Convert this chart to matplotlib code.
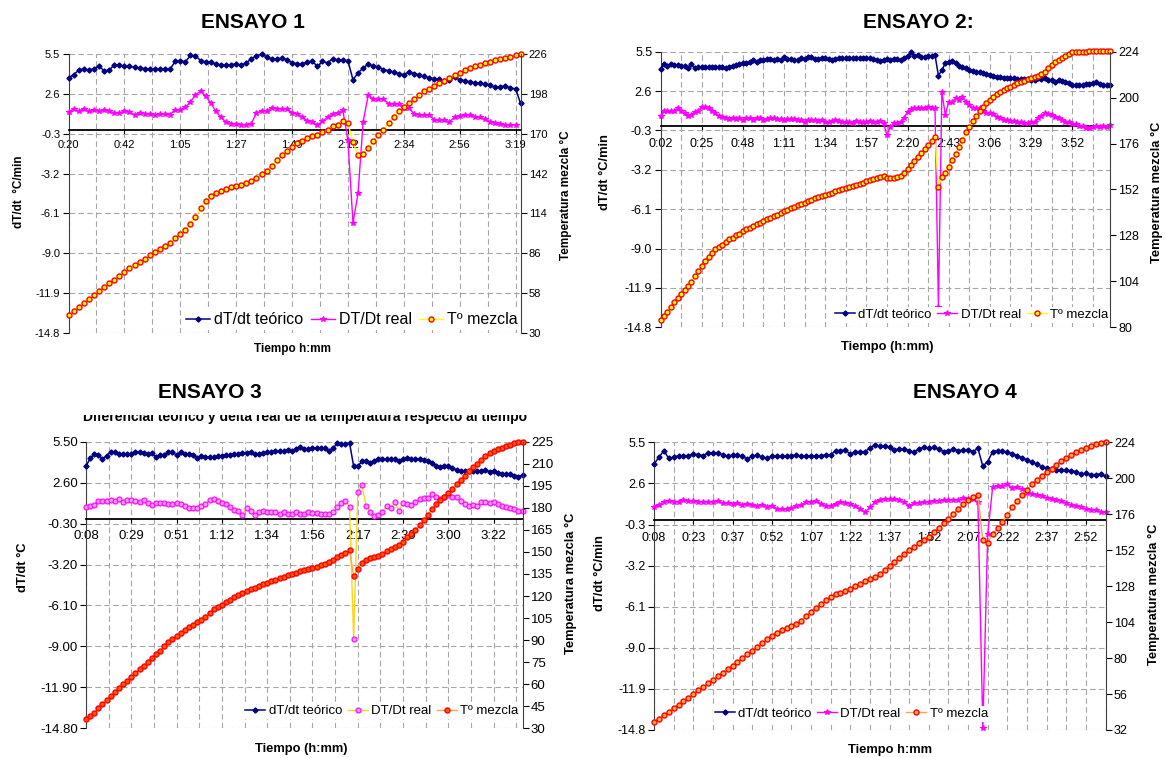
import numpy as np
import matplotlib.pyplot as plt
from matplotlib.patches import Rectangle

# ------------------------------------------------
# Ensayos 1-4 : dT/dt teorico, DT/Dt real y T mezcla
# ------------------------------------------------

plt.rcParams['font.family'] = ['Liberation Sans', 'DejaVu Sans']
W, H = 1166, 758

# ---- ensayo 1 ----
labels1 = ['0:20', '0:42', '1:05', '1:27', '1:49', '2:12', '2:34', '2:56', '3:19']
teo1 = [3.76, 4.0, 4.31, 4.43, 4.31, 4.43, 4.6, 4.29, 4.31, 4.72, 4.72, 4.6, 4.6, 4.53, 4.48,
        4.43, 4.43, 4.43, 4.41, 4.39, 4.39, 4.97, 5.02, 4.92, 5.4, 5.38, 5.02, 4.92, 4.92, 4.77,
        4.72, 4.68, 4.72, 4.8, 4.68, 4.85, 5.16, 5.35, 5.5, 5.3, 5.14, 5.14, 5.21, 5.09, 4.85,
        4.8, 4.77, 4.92, 4.97, 4.6, 4.97, 4.85, 5.16, 5.04, 5.04, 5.02, 3.63, 4.12, 4.48, 4.77,
        4.6, 4.53, 4.36, 4.29, 4.19, 4.07, 4.0, 4.19, 4.07, 4.0, 3.88, 3.76, 3.71, 3.68, 3.56,
        3.58, 3.8, 3.63, 3.56, 3.47, 3.42, 3.38, 3.32, 3.22, 3.08, 3.1, 3.2, 3.0, 2.98, 1.9]
real1 = [1.26, 1.5, 1.33, 1.5, 1.33, 1.41, 1.33, 1.41, 1.33, 1.21, 1.21, 1.33, 1.26, 1.09, 1.21,
         1.16, 1.14, 1.09, 1.14, 1.16, 1.09, 1.45, 1.45, 1.62, 2.01, 2.54, 2.79, 2.42, 1.94, 1.33,
         0.9, 0.53, 0.44, 0.41, 0.36, 0.36, 0.44, 1.21, 1.35, 1.38, 1.58, 1.53, 1.53, 1.53, 1.21,
         1.16, 0.9, 0.66, 0.56, 0.32, 0.61, 0.9, 1.16, 1.21, 1.41, -0.77, -6.78, -4.65, 0.56, 2.5,
         2.23, 2.23, 2.23, 1.89, 1.89, 1.89, 1.58, 1.58, 1.16, 1.09, 1.04, 1.04, 0.73, 0.68, 0.68,
         0.56, 0.9, 0.97, 1.04, 1.09, 0.95, 0.9, 0.75, 0.58, 0.45, 0.38, 0.34, 0.34, 0.34, np.nan]
temp1 = [42.4, 45.4, 48.2, 51.3, 53.6, 56.7, 59.5, 62.5, 64.8, 67.4, 70, 72.8, 75.4, 77.7, 80,
         82.2, 84.5, 86.8, 89.2, 91.3, 93.4, 96.4, 99.7, 102.7, 106.7, 111.6, 117.5, 122.6, 126.1,
         128.5, 130.1, 131.5, 132.7, 133.6, 134.3, 135.2, 136.6, 139, 141.5, 144, 147.5, 151.5,
         155, 158, 161, 163.5, 165.2, 167.1, 168.2, 169.4, 171.3, 172.9, 175.3, 176.4, 179.2,
         177.6, 164, 154.7, 155.8, 160, 164.7, 168.9, 172.9, 177.6, 181.6, 185.8, 188.6, 191.6,
         194.4, 197, 199.8, 201.7, 203.8, 205.7, 207.3, 209.2, 211, 212.7, 214.5, 216.2, 217.5,
         218.5, 219.5, 220.5, 221.5, 222.5, 223.3, 224.2, 225, 226]
rticks1 = [30, 58, 86, 114, 142, 170, 198, 226]

# ---- ensayo 2 ----
labels2 = ['0:02', '0:25', '0:48', '1:11', '1:34', '1:57', '2:20', '2:43', '3:06', '3:29', '3:52']
teo2 = [4.22, 4.59, 4.47, 4.57, 4.52, 4.52, 4.47, 4.47, 4.32, 4.57, 4.27, 4.39, 4.35, 4.39, 4.39,
        4.35, 4.39, 4.39, 4.35, 4.27, 4.39, 4.47, 4.52, 4.57, 4.64, 4.69, 4.71, 4.89, 4.71, 4.89,
        4.89, 4.96, 4.93, 4.89, 4.96, 4.89, 5.08, 4.96, 4.96, 4.89, 4.89, 5.01, 4.96, 5.13, 5.13,
        4.96, 4.96, 5.01, 5.06, 4.96, 4.89, 4.96, 5.01, 5.01, 5.01, 5.01, 5.01, 5.01, 5.01, 5.01,
        5.01, 5.01, 4.93, 4.9, 4.84, 4.89, 4.96, 4.9, 4.96, 4.96, 4.89, 5.01, 5.18, 5.5, 5.18,
        5.25, 5.13, 5.13, 5.18, 5.2, 5.25, 3.73, 4.15, 4.64, 4.76, 4.81, 4.64, 4.47, 4.39, 4.27,
        4.15, 4.07, 4.03, 3.98, 3.9, 3.85, 3.78, 3.71, 3.66, 3.61, 3.58, 3.53, 3.58, 3.53, 3.49,
        3.46, 3.46, 3.46, 3.41, 3.45, 3.53, 3.5, 3.58, 3.41, 3.4, 3.24, 3.41, 3.34, 3.29, 3.21,
        3.05, 3.03, 3.05, 3.05, 3.1, 3.15, 3.2, 3.25, 3.15, 3.05, 3.03, 3.03]
real2 = [0.76, 1.13, 1.13, 1.15, 1.15, 1.32, 1.13, 0.95, 0.78, 0.83, 1.08, 1.13, 1.45, 1.45, 1.32,
         1.13, 0.95, 0.78, 0.71, 0.63, 0.54, 0.59, 0.54, 0.59, 0.46, 0.59, 0.59, 0.46, 0.59, 0.63,
         0.46, 0.54, 0.59, 0.59, 0.54, 0.54, 0.46, 0.54, 0.54, 0.54, 0.46, 0.46, 0.29, 0.46, 0.46,
         0.46, 0.39, 0.46, 0.29, 0.34, 0.39, 0.46, 0.39, 0.34, 0.29, 0.29, 0.22, 0.39, 0.29, 0.29,
         0.29, 0.39, 0.34, 0.34, 0.39, 0.22, -0.64, -0.03, 0.22, 0.22, 0.29, 0.63, 1.08, 1.25, 1.32,
         1.32, 1.32, 1.32, 1.45, 1.37, 1.32, -13.3, 2.55, 0.83, 1.81, 1.76, 2.06, 1.94, 2.18, 1.81,
         1.57, 1.37, 1.32, 1.37, 1.13, 0.95, 0.95, 0.88, 0.71, 0.59, 0.46, 0.46, 0.39, 0.39, 0.34,
         0.29, 0.22, 0.22, 0.29, 0.34, 0.59, 0.78, 0.95, 0.88, 0.83, 0.71, 0.63, 0.46, 0.35, 0.3,
         0.2, 0.15, 0.05, 0.0, -0.1, -0.15, -0.05, 0.0, -0.05, 0.0, -0.05, 0.1]
temp2 = [83.7, 85.9, 88, 90.6, 93.2, 95.3, 97.6, 99.3, 101.6, 103.7, 106.8, 109.3, 112.1, 114.5,
         116.8, 119, 120.8, 122, 123.2, 124.6, 126, 126.9, 128.1, 129, 130.2, 131.2, 132.1, 133,
         133.9, 134.7, 135.6, 136.5, 137.3, 138.2, 138.9, 139.8, 140.7, 141.5, 142.4, 143.1, 143.8,
         144.5, 145.2, 145.9, 146.6, 147.3, 148, 148.7, 149.2, 149.7, 150.4, 151.1, 151.6, 152.2,
         152.7, 153.2, 153.7, 154.3, 154.8, 155.5, 156.2, 156.8, 157.4, 158, 158.6, 159.3, 158.1,
         157.8, 158.1, 158.6, 159.3, 160.5, 162.5, 164.8, 167, 169, 171, 173.2, 175.5, 177.5,
         179.5, 153.4, 158.6, 160.4, 163.8, 167.3, 170.8, 174.3, 177.8, 181.8, 184.8, 187.7, 190.5,
         192.9, 195.2, 197, 198.7, 200.4, 201.7, 202.7, 203.9, 204.8, 205.7, 206.5, 207.4, 208.3,
         208.8, 209.5, 210, 210.6, 211.2, 212.1, 213.5, 215.3, 217, 218.4, 219.6, 220.8, 221.9,
         223, 223.8, 224, 224, 224.1, 224.1, 224.2, 224.2, 224.3, 224.3, 224.4, 224.4, 224.5]
rticks2 = [80, 104, 128, 152, 176, 200, 224]

# ---- ensayo 3 ----
labels3 = ['0:08', '0:29', '0:51', '1:12', '1:34', '1:56', '2:17', '2:39', '3:00', '3:22']
teo3 = [3.76, 4.32, 4.63, 4.58, 4.27, 4.51, 4.79, 4.75, 4.63, 4.63, 4.63, 4.63, 4.75, 4.79, 4.7,
        4.63, 4.7, 4.39, 4.56, 4.56, 4.79, 4.75, 4.56, 4.79, 4.63, 4.63, 4.56, 4.32, 4.46, 4.39,
        4.39, 4.39, 4.46, 4.46, 4.56, 4.56, 4.63, 4.63, 4.7, 4.7, 4.79, 4.63, 4.63, 4.7, 4.75,
        4.79, 4.86, 4.82, 4.86, 4.89, 4.86, 4.98, 5.1, 4.98, 4.98, 5.03, 5.03, 5.03, 5.03, 4.86,
        5.03, 5.4, 5.35, 5.35, 5.4, 3.76, 3.76, 4.1, 4.15, 4.0, 4.15, 4.3, 4.25, 4.25, 4.3, 4.25,
        4.15, 4.25, 4.38, 4.25, 4.25, 4.3, 4.2, 4.1, 4.02, 3.8, 3.72, 3.8, 3.8, 3.63, 3.51, 3.44,
        3.44, 3.45, 3.45, 3.42, 3.42, 3.5, 3.38, 3.45, 3.28, 3.22, 3.2, 3.18, 3.1, 3.02, 3.12]
real3 = [0.86, 0.98, 1.02, 1.33, 1.33, 1.33, 1.38, 1.33, 1.45, 1.26, 1.38, 1.38, 1.33, 1.26, 1.38,
         1.14, 1.02, 1.14, 1.14, 1.14, 1.09, 1.09, 1.17, 1.09, 0.98, 0.79, 0.79, 0.79, 0.93, 1.09,
         1.38, 1.45, 1.28, 1.14, 1.09, 0.86, 0.69, 0.62, 0.34, 0.79, 0.62, 0.34, 0.51, 0.58, 0.55,
         0.55, 0.55, 0.39, 0.55, 0.39, 0.39, 0.55, 0.39, 0.39, 0.55, 0.46, 0.46, 0.39, 0.39, 0.39,
         0.51, 0.86, 1.14, 1.33, 0.91, -8.45, 1.92, 2.44, 0.98, 0.55, 0.22, 0.32, 0.55, 0.93, 0.79,
         1.21, 0.62, 1.17, 1.09, 1.02, 1.26, 1.45, 1.5, 1.5, 1.8, 1.61, 1.45, 1.57, 1.73, 1.57,
         1.57, 1.33, 1.09, 0.98, 1.0, 0.97, 1.2, 1.2, 1.15, 1.2, 1.1, 0.95, 0.85, 0.8, 0.7, 0.62, 0.6]
temp3 = [36.1, 38.4, 40.6, 43.6, 46.3, 49.2, 51.9, 54.9, 57.1, 59.9, 62.3, 64.6, 67.3, 70.3, 72.5,
         75.2, 78, 80.4, 82.7, 85.9, 88.4, 90.6, 92.7, 95, 97, 99, 100.5, 102, 104, 106, 108.5, 111,
         112.5, 114, 116, 117.5, 119, 120.5, 122, 123.2, 124.5, 125.7, 127, 128, 129, 130, 131, 132,
         133, 134, 135, 136, 136.8, 137.6, 138.4, 139.2, 140, 140.8, 141.8, 143, 144.5, 146.5, 148,
         149.5, 151, 133.6, 138.5, 142.4, 144.7, 145.8, 146.5, 147.2, 148.8, 150.5, 152, 153.5, 155,
         157, 160, 162.5, 165, 168, 171.5, 175, 179, 182.5, 185.5, 187.5, 190, 193, 196, 199, 202,
         205, 207.5, 210, 212.5, 215, 217, 218.5, 220, 221, 222, 223, 223.8, 224.5, 225]
rticks3 = [30, 45, 60, 75, 90, 105, 120, 135, 150, 165, 180, 195, 210, 225]

# ---- ensayo 4 ----
labels4 = ['0:08', '0:23', '0:37', '0:52', '1:07', '1:22', '1:37', '1:52', '2:07', '2:22', '2:37', '2:52']
teo4 = [3.97, 4.44, 4.91, 4.37, 4.44, 4.56, 4.56, 4.56, 4.68, 4.63, 4.56, 4.75, 4.75, 4.75, 4.61,
        4.51, 4.61, 4.61, 4.51, 4.33, 4.51, 4.61, 4.44, 4.37, 4.51, 4.51, 4.51, 4.56, 4.56, 4.61,
        4.51, 4.56, 4.51, 4.56, 4.56, 4.61, 4.61, 4.91, 4.91, 4.98, 4.65, 4.84, 4.84, 4.84, 5.1,
        5.31, 5.22, 5.27, 5.15, 4.98, 5.03, 5.03, 4.9, 4.8, 5.05, 5.15, 5.08, 5.15, 5.0, 4.85, 4.9,
        5.03, 4.91, 4.95, 4.98, 4.84, 5.08, 3.81, 4.14, 4.84, 4.91, 4.87, 4.8, 4.7, 4.55, 4.4, 4.25,
        4.1, 3.95, 3.78, 3.68, 3.62, 3.58, 3.55, 3.52, 3.5, 3.42, 3.28, 3.3, 3.22, 3.22, 3.26, 3.1]
real4 = [0.97, 1.09, 1.32, 1.39, 1.32, 1.32, 1.44, 1.39, 1.35, 1.32, 1.32, 1.32, 1.32, 1.39, 1.2,
         1.2, 1.16, 1.2, 1.09, 1.16, 1.09, 1.0, 1.09, 0.97, 1.04, 0.81, 0.76, 0.76, 0.85, 1.0, 1.09,
         1.27, 1.27, 1.39, 1.16, 1.04, 1.0, 1.16, 1.27, 1.23, 1.16, 1.0, 0.81, 0.57, 0.92, 1.27,
         1.46, 1.51, 1.51, 1.51, 1.44, 1.27, 1.04, 1.2, 1.23, 1.27, 1.32, 1.35, 1.39, 1.42, 1.44,
         1.42, 1.44, 1.56, 1.52, 1.5, 1.27, -14.64, -0.98, 2.33, 2.45, 2.4, 2.57, 2.26, 2.33, 2.17,
         1.93, 1.86, 1.79, 1.7, 1.6, 1.5, 1.42, 1.38, 1.2, 1.07, 1.0, 0.95, 0.8, 0.74, 0.72, 0.6, 0.55]
temp4 = [37.5, 39.6, 41.9, 44.2, 46.6, 48.9, 51.2, 53.6, 56, 58.4, 60.7, 63.1, 65.5, 67.9, 70.2,
         72.6, 75, 77.5, 80, 82.5, 85, 87.5, 90, 92.5, 95, 97, 98.5, 100, 101.5, 103, 105, 108, 111,
         113.5, 116, 118.5, 120.5, 122.5, 123.5, 125, 126.4, 128.1, 129.7, 131.2, 132.6, 134.1,
         136.3, 138.6, 141.5, 144.2, 147, 149.6, 152, 154.3, 156.6, 158.8, 161, 164, 167, 170, 173,
         176.2, 179.5, 183, 185.8, 187.2, 188.5, 158.5, 157, 163, 166.5, 170.8, 175.6, 180.5, 185,
         188.9, 192.5, 196, 199, 201.8, 204, 206.5, 209, 211.5, 213.5, 215.5, 217.5, 219, 220.5,
         221.7, 222.7, 223.4, 224]
rticks4 = [32, 56, 80, 104, 128, 152, 176, 200, 224]

lticks = [5.5, 2.6, -0.3, -3.2, -6.1, -9.0, -11.9, -14.8]
grid_kw = dict(color='#a6a6a6', linestyle=(0, (5, 3)), linewidth=0.8)


def panel(box, labels, step, teo, real, temp, rticks, lfmt, sty, leg_pos, leg_size,
          tick_size, xpad):
    l, t, r, b = box
    ax = fig.add_axes([l / W, 1 - b / H, (r - l) / W, (b - t) / H])
    ax2 = ax.twinx()
    n = max(len(teo), len(real), len(temp))

    h1, = ax.plot(np.arange(len(teo)), teo, color='#000080', lw=1.1, marker='D', ms=2.6,
                  label='dT/dt teórico', clip_on=False, zorder=3)
    h2, = ax.plot(np.arange(len(real)), real, color=sty['real_line'], lw=1.0,
                  marker=sty['real_marker'], ms=sty['real_ms'], mfc=sty['real_mfc'],
                  mec='#FF00FF', mew=0.8, label='DT/Dt real', clip_on=False, zorder=3)
    h3, = ax2.plot(np.arange(len(temp)), temp, color=sty['temp_line'], lw=1.0, marker='o',
                   ms=3.6, mfc=sty['temp_mfc'], mec='#FF0000', mew=1.0, label='Tº mezcla',
                   clip_on=False)

    ax.set_xlim(0, n - 1)
    ax.set_ylim(-14.8, 5.5)
    ax2.set_ylim(rticks[0], rticks[-1])

    ax.set_xticks(np.arange(len(labels)) * step)
    ax.set_xticklabels(labels)
    ax.set_xticks(np.arange(0, n - 0.5, step / 2), minor=True)
    ax.set_yticks(lticks)
    ax.set_yticklabels([lfmt % v for v in lticks])
    ax2.set_yticks(rticks)

    ax.grid(True, which='both', axis='x', **grid_kw)
    ax.grid(True, which='major', axis='y', **grid_kw)
    ax.set_axisbelow(True)

    for s in ['top', 'right']:
        ax.spines[s].set_visible(False)
    for s in ['top', 'bottom', 'left']:
        ax2.spines[s].set_visible(False)
    ax.spines['bottom'].set_position(('data', 0))
    ax.spines['bottom'].set_linewidth(1.3)
    ax.spines['left'].set_color('#404040')
    ax2.spines['right'].set_color('#404040')

    ax.tick_params(axis='x', which='major', length=3, labelsize=tick_size, pad=xpad)
    ax.tick_params(axis='x', which='minor', length=0)
    ax.tick_params(axis='y', length=4, labelsize=tick_size, pad=2)
    ax2.tick_params(axis='y', length=4, labelsize=tick_size, pad=2)

    ax2.legend([h1, h2, h3], ['dT/dt teórico', 'DT/Dt real', 'Tº mezcla'], loc='center',
               bbox_to_anchor=leg_pos, ncol=3, fontsize=leg_size, frameon=True,
               facecolor='white', edgecolor='none', framealpha=1, handlelength=1.5,
               handletextpad=0.25, columnspacing=0.45, borderpad=0.15, borderaxespad=0)
    return ax, ax2


def txt(x, y, s, **kw):
    fig.text(x / W, 1 - y / H, s, ha='center', va='center', **kw)


fig = plt.figure(figsize=(W / 100, H / 100), dpi=100)

sty_a = dict(real_line='#FF00FF', real_marker='*', real_ms=4.2, real_mfc='#FF00FF',
             temp_line='#FFFF00', temp_mfc='#FFFF00')
sty_3 = dict(real_line='#FFD21F', real_marker='o', real_ms=3.6, real_mfc='#FF99FF',
             temp_line='#FFA640', temp_mfc='#FF5A00')
sty_4 = dict(real_line='#FF00FF', real_marker='*', real_ms=4.2, real_mfc='#FF00FF',
             temp_line='#FFA640', temp_mfc='#FFB040')

panel((68.5, 54, 520.6, 333), labels1, 11, teo1, real1, temp1, rticks1, '%.1f', sty_a,
      (0.627, 0.047), 11.5, 8, 4.5)
panel((660.5, 51.7, 1110, 327.3), labels2, 12, teo2, real2, temp2, rticks2, '%.1f', sty_a,
      (0.692, 0.045), 9.5, 9, 5.5)
panel((86, 441.7, 522.5, 728.3), labels3, 11, teo3, real3, temp3, rticks3, '%.2f', sty_3,
      (0.678, 0.06), 9.5, 9.5, 5)
panel((654, 442.3, 1105.5, 730), labels4, 8, teo4, real4, temp4, rticks4, '%.1f', sty_4,
      (0.437, 0.056), 9.5, 9, 5.5)

# titles
title_kw = dict(fontsize=15, fontweight='bold')
txt(253, 23, 'ENSAYO 1', **title_kw)
txt(918, 23, 'ENSAYO 2:', **title_kw)
txt(210, 392, 'ENSAYO 3', **title_kw)
txt(965, 392, 'ENSAYO 4', **title_kw)

# half hidden subtitle of ensayo 3
fig.text(305 / W, 1 - 420.5 / H, 'Diferencial teórico y delta real de la temperatura respecto al tiempo',
         ha='center', va='baseline', fontsize=10, fontweight='bold', zorder=3)
fig.patches.append(Rectangle((60 / W, 1 - 414.5 / H), 500 / W, 14 / H, transform=fig.transFigure,
                             facecolor='white', edgecolor='none', zorder=4))

# axis labels
small_kw = dict(fontsize=8.5, fontweight='bold')
lab_kw = dict(fontsize=9.3, fontweight='bold')
txt(292, 349, 'Tiempo h:mm', **small_kw)
txt(887, 347, 'Tiempo (h:mm)', **lab_kw)
txt(301.5, 749, 'Tiempo (h:mm)', **lab_kw)
txt(890, 750, 'Tiempo h:mm', **lab_kw)

txt(19, 192, 'dT/dt  °C/min', rotation=90, **small_kw)
txt(605, 172, 'dT/dt °C/min', rotation=90, **lab_kw)
txt(22.5, 567, 'dT/dt °C', rotation=90, **lab_kw)
txt(600, 573, 'dT/dt °C/min', rotation=90, **lab_kw)

txt(566, 195, 'Temperatura mezcla °C', rotation=90, **small_kw)
txt(1157, 192, 'Temperatura mezcla °C', rotation=90, **lab_kw)
txt(571, 583, 'Temperatura mezcla °C', rotation=90, **lab_kw)
txt(1154, 594, 'Temperatura mezcla °C', rotation=90, **lab_kw)

fig.savefig('out.png', dpi=100)
